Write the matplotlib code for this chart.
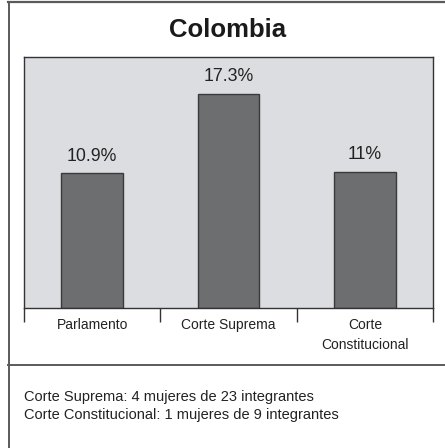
import numpy as np
import matplotlib.pyplot as plt
from matplotlib.lines import Line2D

categories = ["Parlamento", "Corte Suprema", "Corte\nConstitucional"]
values = [10.9, 17.3, 11.0]
value_labels = ["10.9%", "17.3%", "11%"]
notes = ["Corte Suprema: 4 mujeres de 23 integrantes",
         "Corte Constitucional: 1 mujeres de 9 integrantes"]

narrow = ["Liberation Sans Narrow", "Liberation Sans", "DejaVu Sans"]
plt.rcParams['font.family'] = ["Liberation Sans", "DejaVu Sans"]

W, H = 445, 448
fig = plt.figure(figsize=(W / 100, H / 100), dpi=100)
fig.patch.set_facecolor("white")

# outer frame: top, left and the separator above the notes
frame_col = "#5a5a5a"
fig.add_artist(Line2D([8 / W, 1], [1 - 2.5 / H, 1 - 2.5 / H], color=frame_col, lw=1.6))
fig.add_artist(Line2D([8.5 / W, 8.5 / W], [0, 1 - 2 / H], color=frame_col, lw=1.4))
fig.add_artist(Line2D([8 / W, 1], [1 - 365 / H, 1 - 365 / H], color=frame_col, lw=1.4))

fig.text(228 / W, 1 - 30 / H, "Colombia", ha="center", va="center",
         fontsize=18.5, fontweight="bold", color="#1a1a1a")

ax = fig.add_axes([24 / W, 1 - 308 / H, (433 - 24) / W, (308 - 57) / H])
ax.set_facecolor("#dcdde0")
x = np.arange(len(categories))
ax.bar(x, values, width=0.45, color="#6d6e70", edgecolor="#3a3a3a", linewidth=1.0)
for xi, v, lab in zip(x, values, value_labels):
    ax.text(xi, v + 0.7, lab, ha="center", va="bottom", fontsize=12.8, color="#222222")

ax.set_xlim(-0.5, len(categories) - 0.5)
ax.set_ylim(0, 20.3)
ax.set_yticks([])
ax.set_xticks(x)
ax.set_xticklabels(categories, family=narrow, fontsize=10, color="#222222",
                   linespacing=1.6)
ax.tick_params(axis="x", which="major", length=0, pad=7)
ax.set_xticks(np.arange(-0.5, len(categories)), minor=True)
ax.tick_params(axis="x", which="minor", length=10, width=1.0, color="#333333")
for s in ax.spines.values():
    s.set_color("#333333")
    s.set_linewidth(1.0)

for i, line in enumerate(notes):
    fig.text(24 / W, 1 - (397 + 18 * i) / H, line, ha="left", va="center",
             family=narrow, fontsize=10.5, color="#222222")

fig.savefig("out.png", dpi=100)
